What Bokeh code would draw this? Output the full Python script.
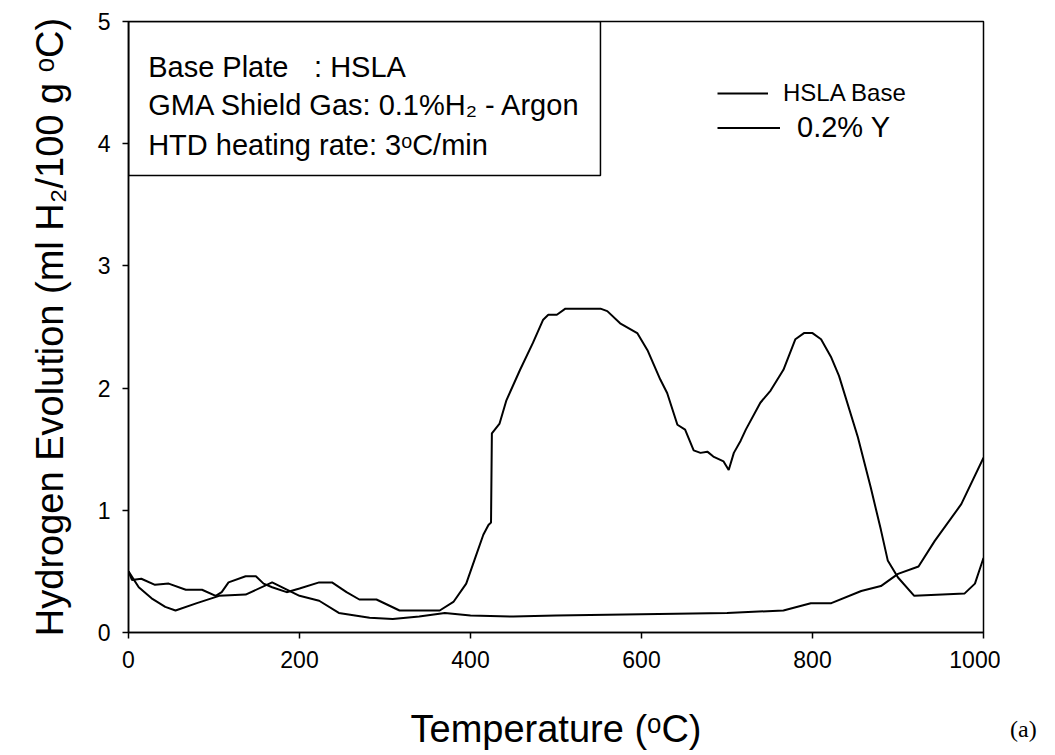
from bokeh.plotting import figure
from bokeh.models import Range1d, Legend, LegendItem, Label, BoxAnnotation, FixedTicker, Div
from bokeh.layouts import row
from bokeh.embed import file_html
from bokeh.resources import INLINE

# ---- data ----
temp_a = [0, 4, 15, 31, 47, 67, 86, 102, 109, 117, 137, 149, 158, 168, 185, 200, 223, 238, 255,
          270, 290, 317, 340, 364, 380, 395, 405, 415, 421, 424, 425, 434, 442, 458, 473, 485,
          491, 501, 511, 552, 560, 575, 595, 607, 622, 630, 642, 651, 661, 669, 677, 684, 696,
          702, 708, 716, 722, 739, 751, 766, 780, 790, 800, 810, 822, 831, 853, 868, 880, 888,
          900, 919, 978, 990, 1000]
h2_a = [0.50, 0.43, 0.44, 0.39, 0.40, 0.35, 0.35, 0.30, 0.33, 0.41, 0.46, 0.46, 0.40, 0.37, 0.33,
        0.36, 0.41, 0.41, 0.33, 0.27, 0.27, 0.18, 0.18, 0.18, 0.25, 0.40, 0.60, 0.80, 0.88, 0.90,
        1.63, 1.71, 1.90, 2.15, 2.37, 2.56, 2.60, 2.60, 2.65, 2.65, 2.63, 2.53, 2.45, 2.31, 2.07,
        1.96, 1.70, 1.66, 1.49, 1.47, 1.48, 1.44, 1.40, 1.33, 1.47, 1.57, 1.66, 1.88, 1.98, 2.15,
        2.40, 2.45, 2.45, 2.40, 2.25, 2.10, 1.60, 1.19, 0.84, 0.59, 0.45, 0.30, 0.32, 0.40, 0.61]

temp_b = [0, 12, 27, 43, 55, 80, 106, 137, 168, 200, 223, 246, 282, 309, 340, 370, 400, 450, 500,
          600, 700, 766, 798, 822, 857, 880, 900, 924, 943, 974, 1000]
h2_b = [0.50, 0.37, 0.28, 0.21, 0.18, 0.24, 0.30, 0.31, 0.41, 0.30, 0.26, 0.16, 0.12, 0.11, 0.13,
        0.16, 0.14, 0.13, 0.14, 0.15, 0.16, 0.18, 0.24, 0.24, 0.34, 0.38, 0.48, 0.54, 0.75, 1.05,
        1.43]

series_names = ["HSLA Base", "0.2% Y"]
x_ticks = [0, 200, 400, 600, 800, 1000]
y_ticks = [0, 1, 2, 3, 4, 5]

FONT = "Liberation Sans"

p = figure(width=1000, height=755, output_backend="svg", toolbar_location=None,
           x_range=Range1d(0, 1000), y_range=Range1d(0, 5),
           min_border_left=128, min_border_right=17, min_border_top=21, min_border_bottom=123)
p.background_fill_color = "white"
p.border_fill_color = "white"
p.outline_line_color = "black"
p.outline_line_width = 1.5
p.xgrid.visible = False
p.ygrid.visible = False

for ax in (p.xaxis[0], p.yaxis[0]):
    ax.axis_line_color = "black"
    ax.axis_line_width = 1.5
    ax.major_tick_line_color = "black"
    ax.major_tick_line_width = 1.5
    ax.major_tick_out = 6
    ax.major_tick_in = 0
    ax.minor_tick_line_color = None
    ax.major_label_text_font = FONT
    ax.major_label_text_font_size = "23px"
    ax.major_label_text_color = "black"
    ax.axis_label_text_font = FONT
    ax.axis_label_text_font_size = "38px"
    ax.axis_label_text_font_style = "normal"
    ax.axis_label_text_color = "black"

p.xaxis.ticker = FixedTicker(ticks=x_ticks)
p.yaxis.ticker = FixedTicker(ticks=y_ticks)
p.xaxis.major_label_standoff = 12
p.yaxis.major_label_standoff = 12
p.xaxis.axis_label = "Temperature (\u1d52C)"
p.yaxis.axis_label = "Hydrogen Evolution (ml H\u2082/100 g \u1d52C)"
p.xaxis.axis_label_standoff = 37
p.yaxis.axis_label_standoff = 24

r_b = p.line(temp_b, h2_b, line_color="black", line_width=2)
r_a = p.line(temp_a, h2_a, line_color="black", line_width=2)

leg1 = Legend(items=[LegendItem(label=series_names[0], renderers=[r_b])],
              location=(589, 525), padding=0, margin=0, border_line_color=None,
              background_fill_alpha=0, glyph_width=51, glyph_height=24, label_height=24,
              label_standoff=15, label_text_font=FONT, label_text_font_size="24px",
              label_text_color="black")
leg2 = Legend(items=[LegendItem(label=series_names[1], renderers=[r_a])],
              location=(589, 488), padding=0, margin=0, border_line_color=None,
              background_fill_alpha=0, glyph_width=63, glyph_height=29, label_height=29,
              label_standoff=17, label_text_font=FONT, label_text_font_size="29px",
              label_text_color="black")
p.add_layout(leg1)
p.add_layout(leg2)

box = BoxAnnotation(left=0, right=552, top=5, bottom=3.74, fill_alpha=0,
                    line_color="black", line_alpha=1.0, line_width=1.5)
p.add_layout(box)

txt = dict(text_font=FONT, text_font_size="29px", text_color="black", text_baseline="alphabetic")
p.add_layout(Label(x=23, y=4.631, text="Base Plate", **txt))
p.add_layout(Label(x=217, y=4.631, text=": HSLA", **txt))
p.add_layout(Label(x=23, y=4.320, text="GMA Shield Gas: 0.1%H\u2082 - Argon", **txt))
p.add_layout(Label(x=23, y=3.992, text="HTD heating rate: 3\u1d52C/min", **txt))

panel_tag = Div(
    text='<div style="padding:717px 0 0 10px; margin:0; font-family:\'Liberation Serif\', serif; '
         'font-size:24px; line-height:24px; color:black; white-space:nowrap;">(a)</div>',
    width=55, height=755, margin=0)

layout = row(p, panel_tag, spacing=0)
open("out.html", "w").write(file_html(layout, INLINE))
